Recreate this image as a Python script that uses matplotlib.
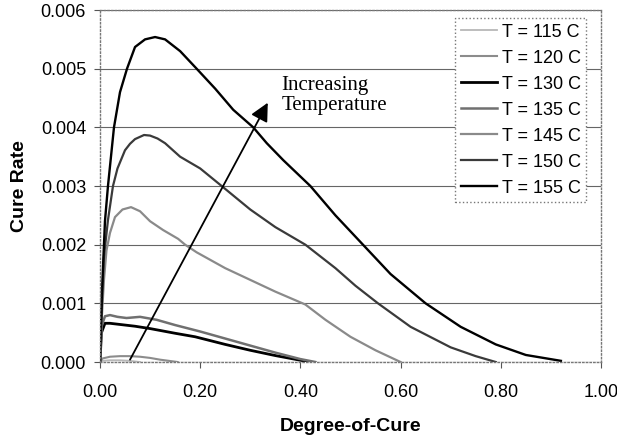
import matplotlib.pyplot as plt

# degree-of-cure / cure-rate curves for each cure temperature
x_115 = [0.0, 0.005, 0.02, 0.04, 0.06, 0.08]
y_115 = [0.0, 0.00002, 0.00003, 0.00003, 0.00002, 0.0]

x_120 = [0.0, 0.005, 0.02, 0.04, 0.06, 0.08, 0.10, 0.12, 0.155]
y_120 = [0.0, 0.00006, 0.00009, 0.0001, 0.0001, 0.00009, 0.00007, 0.00004, 0.0]

x_130 = [0.0, 0.003, 0.01, 0.02, 0.07, 0.10, 0.15, 0.19, 0.25, 0.30, 0.35, 0.40, 0.42]
y_130 = [0.0, 0.0005, 0.00066, 0.00066, 0.00061, 0.00057, 0.00049, 0.00043, 0.0003, 0.0002, 0.00011, 0.00003, 0.0]

x_135 = [0.0, 0.003, 0.01, 0.02, 0.035, 0.053, 0.08, 0.113, 0.15, 0.20, 0.25, 0.30, 0.35, 0.40, 0.43]
y_135 = [0.0, 0.0006, 0.00078, 0.0008, 0.00077, 0.00075, 0.00077, 0.00072, 0.00063, 0.00052, 0.0004, 0.00028, 0.00016, 0.00005, 0.0]

x_145 = [0.0, 0.004, 0.008, 0.013, 0.02, 0.03, 0.045, 0.062, 0.08, 0.10, 0.126, 0.156, 0.17, 0.193, 0.25, 0.30, 0.35, 0.41, 0.45, 0.50, 0.55, 0.60]
y_145 = [0.0, 0.0008, 0.0014, 0.0019, 0.0022, 0.00247, 0.0026, 0.00264, 0.00257, 0.0024, 0.00225, 0.0021, 0.0020, 0.00187, 0.0016, 0.0014, 0.0012, 0.00098, 0.00072, 0.00043, 0.0002, 0.0]

x_150 = [0.0, 0.004, 0.008, 0.016, 0.026, 0.035, 0.05, 0.06, 0.07, 0.088, 0.10, 0.115, 0.13, 0.16, 0.20, 0.243, 0.30, 0.35, 0.41, 0.47, 0.51, 0.555, 0.62, 0.70, 0.75, 0.79]
y_150 = [0.0, 0.001, 0.0018, 0.00242, 0.003, 0.0033, 0.00361, 0.00372, 0.0038, 0.00387, 0.00386, 0.00381, 0.00373, 0.0035, 0.0033, 0.0030, 0.0026, 0.0023, 0.0020, 0.0016, 0.0013, 0.0010, 0.0006, 0.00025, 0.0001, 0.0]

x_155 = [0.0, 0.004, 0.01, 0.016, 0.028, 0.04, 0.054, 0.07, 0.09, 0.11, 0.13, 0.16, 0.193, 0.23, 0.266, 0.306, 0.333, 0.366, 0.42, 0.47, 0.525, 0.58, 0.65, 0.72, 0.79, 0.85, 0.92]
y_155 = [0.0, 0.0012, 0.0024, 0.003, 0.004, 0.0046, 0.005, 0.00537, 0.0055, 0.00554, 0.0055, 0.0053, 0.0050, 0.00466, 0.0043, 0.0040, 0.00373, 0.00344, 0.0030, 0.0025, 0.0020, 0.0015, 0.0010, 0.0006, 0.0003, 0.00012, 0.00002]

labels = ['T = 115 C', 'T = 120 C', 'T = 130 C', 'T = 135 C', 'T = 145 C', 'T = 150 C', 'T = 155 C']
xticks = [0.0, 0.2, 0.4, 0.6, 0.8, 1.0]
yticks = [0.0, 0.001, 0.002, 0.003, 0.004, 0.005, 0.006]

plt.rcParams['font.family'] = ['Liberation Sans', 'DejaVu Sans']

fig = plt.figure(figsize=(6.17, 4.37), dpi=100)
ax = fig.add_axes([0.162, 0.1716, 0.812, 0.8054])

ax.plot(x_115, y_115, color='#b8b8b8', lw=1.3, label=labels[0])
ax.plot(x_120, y_120, color='#8c8c8c', lw=1.5, label=labels[1])
ax.plot(x_130, y_130, color='black', lw=2.0, label=labels[2])
ax.plot(x_135, y_135, color='#707070', lw=1.8, label=labels[3])
ax.plot(x_145, y_145, color='#8a8a8a', lw=1.6, label=labels[4])
ax.plot(x_150, y_150, color='#3a3a3a', lw=1.6, label=labels[5])
ax.plot(x_155, y_155, color='black', lw=1.7, label=labels[6])

# arrow showing the trend with temperature
ax.annotate('', xy=(0.335, 0.00442), xytext=(0.06, 0.00004),
            arrowprops=dict(arrowstyle='-|>,head_length=1.1,head_width=0.55',
                            color='black', lw=1.3, shrinkA=0, shrinkB=0))
ax.text(0.362, 0.00488, 'Increasing\nTemperature', family='Liberation Serif',
        fontsize=15, va='top', ha='left', linespacing=1.1)

ax.set_xlim(0, 1.0)
ax.set_ylim(0, 0.006)
ax.set_xticks(xticks)
ax.set_yticks(yticks)
ax.set_xticklabels(['%.2f' % v for v in xticks], fontsize=13)
ax.set_yticklabels(['%.3f' % v for v in yticks], fontsize=13)
ax.tick_params(direction='out', length=4, color='#555555', pad=6)
ax.tick_params(axis='x', pad=12)

ax.yaxis.grid(True, color='#666666', lw=0.8)
ax.set_axisbelow(True)
for s in ax.spines.values():
    s.set_linestyle(':')
    s.set_color('#777777')
    s.set_linewidth(1.0)

ax.set_xlabel('Degree-of-Cure', fontsize=14, fontweight='bold', labelpad=12)
ax.set_ylabel('Cure Rate', fontsize=14, fontweight='bold', labelpad=9)

leg = ax.legend(loc='upper right', bbox_to_anchor=(0.97, 0.977), fontsize=13,
                handlelength=2.0, handletextpad=0.25, labelspacing=0.5,
                borderpad=0.3, fancybox=False, framealpha=1, borderaxespad=0)
leg.get_frame().set_edgecolor('#777777')
leg.get_frame().set_linestyle(':')

fig.savefig('out.png', dpi=100)
